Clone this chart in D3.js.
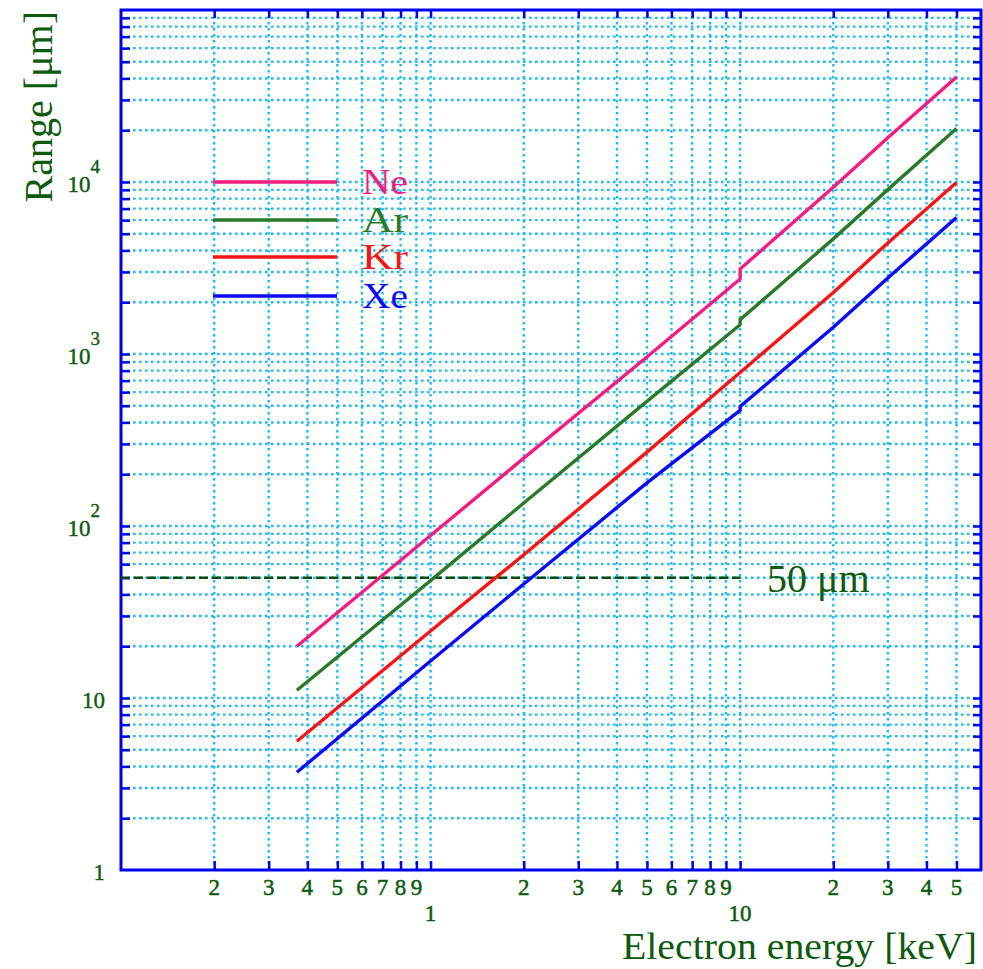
<!DOCTYPE html>
<html>
<head>
<meta charset="utf-8">
<script src="https://cdn.jsdelivr.net/npm/d3@7"></script>
<style>
  body { margin: 0; background: #fff; }
  text { font-family: "Liberation Serif", "DejaVu Serif", serif; }
</style>
</head>
<body>
<svg id="chart" width="983" height="969"></svg>
<script>
// Electron range in noble gases vs. electron energy (log-log)
const energyKeV = [0.37, 1, 2, 5, 10, 10, 20, 30, 50];
const rangeNe = [20, 88, 248, 961, 2730, 3120, 9310, 18060, 40800];
const rangeAr = [11.1, 48.1, 136, 530, 1480, 1584, 4670, 9030, 20450];
const rangeKr = [5.6, 24.5, 68, 269, 780, 780, 2280, 4420, 9930];
const rangeXe = [3.7, 16.4, 46, 178, 470, 495, 1430, 2770, 6210];

const seriesNames = ["Ne", "Ar", "Kr", "Xe"];
const seriesColors = ["#f41c80", "#2a7a2a", "#f81414", "#0a0af5"];
const seriesValues = [rangeNe, rangeAr, rangeKr, rangeXe];

const threshold = 50;            // μm reference line
const thresholdLabel = "50 μm";
const thresholdEnds = [0.1, 10];

const xMajorTicks = [1, 10];
const xMajorLabels = ["1", "10"];
const xMinorDigits = [2, 3, 4, 5, 6, 7, 8, 9];
const yMajorTicks = [1, 10, 100, 1000, 10000];
const yMajorBase = ["1", "10", "10", "10", "10"];
const yMajorExp = ["", "", "2", "3", "4"];

const xTitle = "Electron energy [keV]";
const yTitle = "Range [μm]";

const svg = d3.select("#chart");
const mLeft = 121, mRight = 981, mTop = 10, mBottom = 870;
const textGreen = "#0e5a10";
const gridColor = "#1cbcf2";
const frameBlue = "#0000f0";

const x = d3.scaleLog().domain([0.1, 60]).range([mLeft, mRight]);
const y = d3.scaleLog().domain([1, 1e5]).range([mBottom, mTop]);

// all decade tick positions inside the frame
const xTicks = [];
[0.1, 1, 10].forEach(d => [1, ...xMinorDigits].forEach(k => {
  const v = +(d * k).toPrecision(3);
  if (v > 0.1 && v < 60) xTicks.push(v);
}));
const yTicks = [];
[1, 10, 100, 1000, 10000].forEach(d => [1, ...xMinorDigits].forEach(k => {
  const v = d * k;
  if (v > 1 && v < 1e5) yTicks.push(v);
}));

// dotted grid
const grid = svg.append("g")
  .attr("stroke", gridColor).attr("stroke-width", 2.4)
  .attr("stroke-dasharray", "2.6,3.4").attr("fill", "none");
grid.selectAll("line.gx").data(xTicks).join("line")
  .attr("x1", d => x(d)).attr("x2", d => x(d))
  .attr("y1", mTop).attr("y2", mBottom);
grid.selectAll("line.gy").data(yTicks).join("line")
  .attr("x1", mLeft).attr("x2", mRight)
  .attr("y1", d => y(d)).attr("y2", d => y(d));

// inner ticks on all four sides
const tickLen = 9;
const axG = svg.append("g");
axG.append("g").attr("transform", `translate(0,${mBottom})`)
  .call(d3.axisBottom(x).tickValues(xTicks).tickSize(-tickLen).tickFormat(""));
axG.append("g").attr("transform", `translate(0,${mTop})`)
  .call(d3.axisTop(x).tickValues(xTicks).tickSize(-tickLen + 1).tickFormat(""));
axG.append("g").attr("transform", `translate(${mLeft},0)`)
  .call(d3.axisLeft(y).tickValues(yTicks).tickSize(-tickLen).tickFormat(""));
axG.append("g").attr("transform", `translate(${mRight},0)`)
  .call(d3.axisRight(y).tickValues(yTicks).tickSize(-tickLen + 1).tickFormat(""));
axG.selectAll(".domain").remove();
axG.selectAll(".tick line").attr("stroke", frameBlue).attr("stroke-width", 2.5);

// frame
svg.append("rect")
  .attr("x", mLeft).attr("y", mTop)
  .attr("width", mRight - mLeft).attr("height", mBottom - mTop)
  .attr("fill", "none").attr("stroke", frameBlue).attr("stroke-width", 3);

// x tick labels
const xl = svg.append("g").attr("fill", textGreen).attr("text-anchor", "middle")
  .attr("stroke", textGreen).attr("stroke-width", 0.5)
  .attr("font-size", 23);
xl.selectAll("text.minor").data(xTicks.filter(v => !xMajorTicks.includes(v)))
  .join("text")
  .attr("x", d => x(d)).attr("y", 895)
  .text(d => String(Math.round(d / Math.pow(10, Math.floor(Math.log10(d) + 1e-9)))));
xl.selectAll("text.major").data(xMajorTicks).join("text")
  .attr("x", d => x(d)).attr("y", 921)
  .text((d, i) => xMajorLabels[i]);

// y tick labels with superscript exponents
const yl = svg.append("g").attr("fill", textGreen).attr("text-anchor", "end")
  .attr("stroke", textGreen).attr("stroke-width", 0.4);
yMajorTicks.forEach((v, i) => {
  const t = yl.append("text")
    .attr("x", yMajorExp[i] ? 100 : 105)
    .attr("y", y(v) + 10)
    .attr("font-size", 23);
  t.append("tspan").text(yMajorBase[i]);
  if (yMajorExp[i]) {
    t.append("tspan").attr("dy", -19).attr("font-size", 19).text(yMajorExp[i]);
  }
});

// 50 μm reference line
svg.append("line")
  .attr("x1", x(thresholdEnds[0])).attr("x2", x(thresholdEnds[1]))
  .attr("y1", y(threshold)).attr("y2", y(threshold))
  .attr("stroke", "#0b4a0b").attr("stroke-width", 2.5)
  .attr("stroke-dasharray", "9,4");
svg.append("text")
  .attr("x", 767).attr("y", y(threshold) + 14)
  .attr("font-size", 40).attr("fill", textGreen)
  .text(thresholdLabel);

// range curves
const line = d3.line().x(d => x(d[0])).y(d => y(d[1]));
seriesValues.forEach((vals, i) => {
  svg.append("path")
    .datum(energyKeV.map((e, j) => [e, vals[j]]))
    .attr("d", line)
    .attr("fill", "none")
    .attr("stroke", seriesColors[i])
    .attr("stroke-width", 3.4)
    .attr("stroke-linejoin", "round");
});

// legend
const legendRowY = [182, 220, 257, 296];
seriesNames.forEach((name, i) => {
  svg.append("line")
    .attr("x1", 213).attr("x2", 337)
    .attr("y1", legendRowY[i]).attr("y2", legendRowY[i])
    .attr("stroke", seriesColors[i]).attr("stroke-width", 3.4);
  svg.append("text")
    .attr("x", 362).attr("y", legendRowY[i] + 12)
    .attr("font-size", 36).attr("fill", seriesColors[i])
    .attr("textLength", 46).attr("lengthAdjust", "spacingAndGlyphs")
    .text(name);
});

// axis titles
svg.append("text")
  .attr("x", 977).attr("y", 959)
  .attr("text-anchor", "end").attr("font-size", 38).attr("fill", textGreen)
  .attr("textLength", 355).attr("lengthAdjust", "spacingAndGlyphs")
  .text(xTitle);
svg.append("text")
  .attr("transform", "translate(52,11) rotate(-90)")
  .attr("text-anchor", "end").attr("font-size", 40).attr("fill", textGreen)
  .text(yTitle);
</script>
</body>
</html>
